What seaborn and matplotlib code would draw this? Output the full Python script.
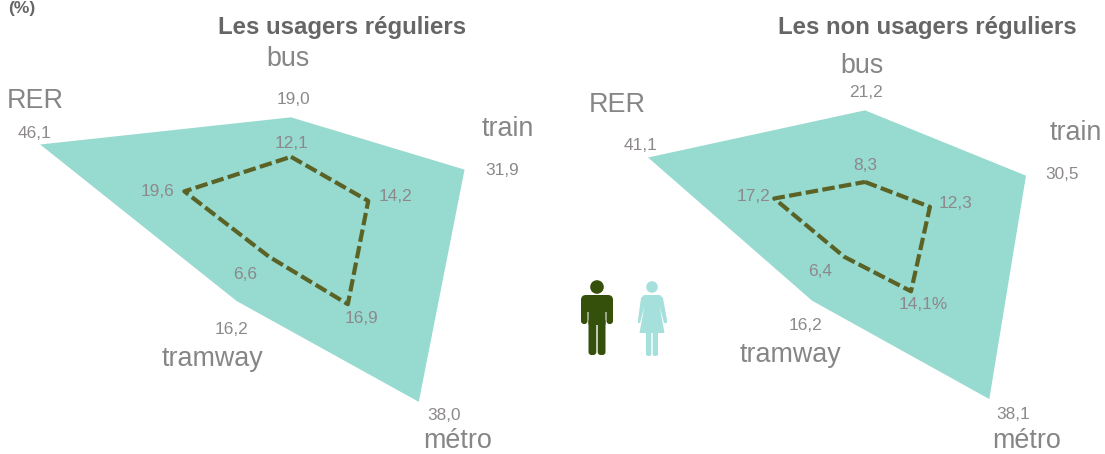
import numpy as np
import pandas as pd
import matplotlib
matplotlib.use("Agg")
import matplotlib.pyplot as plt
from matplotlib.patches import Circle, FancyBboxPatch, Polygon
import seaborn as sns

categories = ["bus", "train", "métro", "tramway", "RER"]
usagers_femmes = [19.0, 31.9, 38.0, 16.2, 46.1]
usagers_hommes = [12.1, 14.2, 16.9, 6.6, 19.6]
non_usagers_femmes = [21.2, 30.5, 38.1, 16.2, 41.1]
non_usagers_hommes = [8.3, 12.3, 14.1, 6.4, 17.2]
usagers_labels_ext = ["19,0", "31,9", "38,0", "16,2", "46,1"]
usagers_labels_int = ["12,1", "14,2", "16,9", "6,6", "19,6"]
non_usagers_labels_ext = ["21,2", "30,5", "38,1", "16,2", "41,1"]
non_usagers_labels_int = ["8,3", "12,3", "14,1%", "6,4", "17,2"]

W, H = 1105, 454
FILL = "#97dacf"
DASH = "#5a6226"
MAN = "#35500a"
WOMAN = "#a6e0dc"
GREY = "#868686"
NUM = "#8c888c"
TITLE = "#666666"

sns.set_theme(style="white")
plt.rcParams["font.family"] = ["Liberation Sans", "DejaVu Sans"]
fig = plt.figure(figsize=(W / 100, H / 100), dpi=100, facecolor="white")


def txt(x, y, s, size, color, weight="normal", dy=1.5):
    fig.text(x / W, 1 - (y + dy) / H, s, fontsize=size, color=color, weight=weight,
             ha="center", va="center")


def radar(cx, cy, k, ext, inner):
    rmax = 60
    R = rmax * k
    ax = fig.add_axes([(cx - R) / W, 1 - (cy + R) / H, 2 * R / W, 2 * R / H],
                      projection="polar")
    theta = np.deg2rad(90 - 72 * np.arange(len(categories)))
    ax.fill(theta, ext, color=FILL, lw=0, zorder=1)
    closed = pd.DataFrame({"theta": np.append(theta, theta[0]),
                           "r": np.append(inner, inner[0])})
    sns.lineplot(data=closed, x="theta", y="r", sort=False, estimator=None, ax=ax,
                 color=DASH, lw=3, linestyle=(0, (3.0, 1.05)), zorder=2)
    ax.set_ylim(0, rmax)
    ax.axis("off")
    ax.patch.set_alpha(0)


radar(291, 226, 5.72, usagers_femmes, usagers_hommes)
radar(865, 228, 5.55, non_usagers_femmes, non_usagers_hommes)

txt(22, 8, "(%)", 12.5, TITLE, "bold", dy=0)
txt(342, 26, "Les usagers réguliers", 17.3, TITLE, "bold")
txt(927, 26, "Les non usagers réguliers", 17.3, TITLE, "bold")

for name, pos in zip(categories, [(288, 58), (508, 128), (458, 439), (213, 358), (35, 99)]):
    txt(*pos, name, 19.4, GREY)
for name, pos in zip(categories, [(862, 64), (1076, 132), (1027, 439), (790, 354), (617, 103)]):
    txt(*pos, name, 19.4, GREY)

for lab, pos in zip(usagers_labels_ext, [(293, 98), (502, 169), (444, 414), (231, 328), (35, 132)]):
    txt(*pos, lab, 12.4, NUM)
for lab, pos in zip(usagers_labels_int, [(292, 142), (395, 195), (362, 317), (245, 273), (158, 190)]):
    txt(*pos, lab, 12.4, NUM)
for lab, pos in zip(non_usagers_labels_ext, [(866, 91), (1062, 173), (1013, 413), (806, 324), (641, 144)]):
    txt(*pos, lab, 12.4, NUM)
for lab, pos in zip(non_usagers_labels_int, [(865, 164), (956, 202), (923, 303), (820, 270), (753, 195)]):
    txt(*pos, lab, 12.4, NUM)

# pictograms, drawn in pixel coordinates on an overlay
ov = fig.add_axes([0, 0, 1, 1])
ov.set_xlim(0, W)
ov.set_ylim(H, 0)
ov.axis("off")
ov.patch.set_alpha(0)


def rbox(x0, y0, x1, y1, r, c):
    ov.add_patch(FancyBboxPatch((x0 + r, y0 + r), x1 - x0 - 2 * r, y1 - y0 - 2 * r,
                                boxstyle=f"round,pad={r},rounding_size={r}", fc=c, ec="none"))


# man
ov.add_patch(Circle((597, 287), 6.8, fc=MAN, ec="none"))
rbox(581, 295, 613, 312, 5, MAN)
rbox(581, 300, 587.5, 324, 3, MAN)
rbox(606.5, 300, 613, 324, 3, MAN)
rbox(588.5, 300, 605.5, 325, 1, MAN)
rbox(588.5, 318, 596.3, 355, 3, MAN)
rbox(597.7, 318, 605.5, 355, 3, MAN)
# woman
ov.add_patch(Circle((652, 287), 5.8, fc=WOMAN, ec="none"))
ov.add_patch(Polygon([(644, 295), (660, 295), (663, 298), (667, 320), (667, 323), (664, 323),
                      (659.5, 306), (664.5, 333), (639.5, 333), (644.5, 306), (640, 323),
                      (638, 323), (638, 320), (641, 298)], closed=True, fc=WOMAN, ec="none"))
rbox(646, 330, 651.3, 356, 2, WOMAN)
rbox(652.7, 330, 658, 356, 2, WOMAN)

fig.savefig("out.png", dpi=100)
